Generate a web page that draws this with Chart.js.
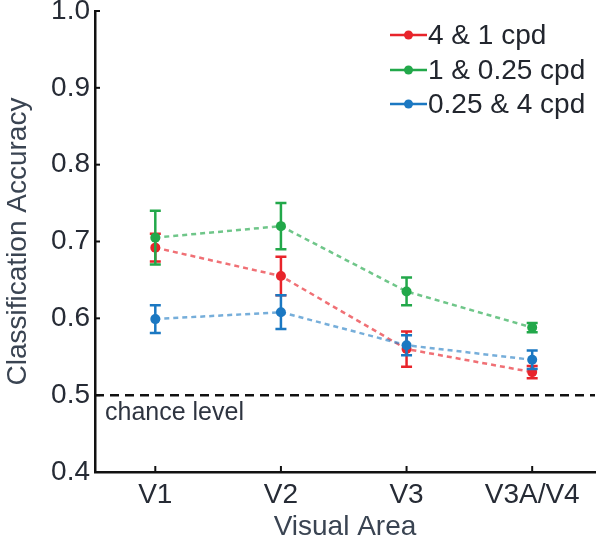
<!DOCTYPE html>
<html>
<head>
<meta charset="utf-8">
<script src="https://cdn.jsdelivr.net/npm/chart.js@4"></script>
<style>
  html, body { margin: 0; padding: 0; background: #fff; }
  #wrap { width: 600px; height: 545px; }
</style>
</head>
<body>
<div id="wrap"><canvas id="c" width="600" height="545"></canvas></div>
<script>
const categories = ['V1', 'V2', 'V3', 'V3A/V4'];
const seriesNames = ['4 & 1 cpd', '1 & 0.25 cpd', '0.25 & 4 cpd'];
const redValues = [0.692, 0.655, 0.560, 0.530];
const redErrors = [0.018, 0.025, 0.023, 0.008];
const greenValues = [0.705, 0.720, 0.635, 0.588];
const greenErrors = [0.035, 0.030, 0.018, 0.006];
const blueValues = [0.599, 0.608, 0.565, 0.546];
const blueErrors = [0.018, 0.022, 0.013, 0.012];
const yTicks = [0.4, 0.5, 0.6, 0.7, 0.8, 0.9, 1.0];
const chanceLevel = 0.5;
const chanceLabel = 'chance level';
const xTitle = 'Visual Area';
const yTitle = 'Classification Accuracy';

const colors = ['#e8242b', '#22a84a', '#1b78c2'];
const fadeColors = ['rgba(232,36,43,0.65)', 'rgba(34,168,74,0.65)', 'rgba(27,120,194,0.6)'];
const FONT = "'Liberation Sans', Arial, sans-serif";

function toPoints(vals) { return vals.map((v, i) => ({ x: i + 1, y: v })); }
const allValues = [redValues, greenValues, blueValues];
const allErrors = [redErrors, greenErrors, blueErrors];

const datasets = allValues.map((vals, k) => ({
  label: seriesNames[k],
  data: toPoints(vals),
  errors: allErrors[k],
  borderColor: fadeColors[k],
  backgroundColor: colors[k],
  pointBackgroundColor: colors[k],
  pointBorderColor: colors[k],
  pointRadius: 5,
  pointBorderWidth: 0,
  borderWidth: 2.5,
  borderDash: [5, 4],
  order: 3 - k,
  tension: 0
}));

const overlay = {
  id: 'overlay',
  beforeDatasetsDraw(chart) {
    const ctx = chart.ctx;
    const ys = chart.scales.y;
    const area = chart.chartArea;
    ctx.save();
    const yc = ys.getPixelForValue(chanceLevel);
    ctx.strokeStyle = '#111';
    ctx.lineWidth = 2.5;
    ctx.setLineDash([9, 6]);
    ctx.beginPath();
    ctx.moveTo(area.left, yc);
    ctx.lineTo(area.right, yc);
    ctx.stroke();
    ctx.setLineDash([]);
    ctx.fillStyle = '#2e3440';
    ctx.font = "25px " + FONT;
    ctx.textAlign = 'left';
    ctx.textBaseline = 'middle';
    ctx.fillText(chanceLabel, area.left + 10, yc + 18);
    ctx.restore();
  },
  afterDatasetDraw(chart, args) {
    const ctx = chart.ctx;
    const ds = chart.data.datasets[args.index];
    const xs = chart.scales.x, ys = chart.scales.y;
    ctx.save();
    ctx.strokeStyle = ds.backgroundColor;
    ctx.lineWidth = 2.5;
    ds.data.forEach((p, i) => {
      const e = ds.errors[i];
      const x = xs.getPixelForValue(p.x);
      const y1 = ys.getPixelForValue(p.y + e);
      const y2 = ys.getPixelForValue(p.y - e);
      ctx.beginPath();
      ctx.moveTo(x, y1); ctx.lineTo(x, y2);
      ctx.moveTo(x - 5.5, y1); ctx.lineTo(x + 5.5, y1);
      ctx.moveTo(x - 5.5, y2); ctx.lineTo(x + 5.5, y2);
      ctx.stroke();
    });
    ctx.restore();
  },
  afterDraw(chart) {
    const ctx = chart.ctx;
    const xs = chart.scales.x, ys = chart.scales.y;
    const area = chart.chartArea;
    ctx.save();
    ctx.strokeStyle = '#111';
    ctx.lineWidth = 2;
    yTicks.forEach(v => {
      const y = ys.getPixelForValue(v);
      ctx.beginPath(); ctx.moveTo(area.left, y); ctx.lineTo(area.left + 5, y); ctx.stroke();
    });
    categories.forEach((c, i) => {
      const x = xs.getPixelForValue(i + 1);
      ctx.beginPath(); ctx.moveTo(x, area.bottom); ctx.lineTo(x, area.bottom - 6); ctx.stroke();
    });
    // legend
    const lx0 = 390, lx1 = 427, rows = [35, 70, 104];
    ctx.font = "28px " + FONT;
    ctx.textAlign = 'left';
    ctx.textBaseline = 'middle';
    chart.data.datasets.forEach((ds, k) => {
      const y = rows[k];
      ctx.strokeStyle = ds.backgroundColor;
      ctx.lineWidth = 2.5;
      ctx.beginPath(); ctx.moveTo(lx0, y); ctx.lineTo(lx1, y); ctx.stroke();
      ctx.fillStyle = ds.backgroundColor;
      ctx.beginPath(); ctx.arc((lx0 + lx1) / 2, y, 4.5, 0, Math.PI * 2); ctx.fill();
      ctx.fillStyle = '#22262e';
      ctx.fillText(ds.label, lx1 + 1, y + 1);
    });
    ctx.restore();
  }
};

new Chart(document.getElementById('c'), {
  type: 'line',
  data: { datasets },
  options: {
    responsive: false,
    animation: false,
    devicePixelRatio: 1,
    layout: { padding: { top: 0, right: 0, bottom: 0, left: 0 } },
    plugins: { legend: { display: false }, tooltip: { enabled: false } },
    scales: {
      x: {
        type: 'linear',
        min: 0.52,
        max: 4.5,
        afterBuildTicks(s) { s.ticks = categories.map((c, i) => ({ value: i + 1 })); },
        afterFit(s) { s.height = 73; s.paddingLeft = 0; s.paddingRight = 0; },
        grid: { display: false, drawTicks: false },
        border: { display: true, color: '#111', width: 2.5 },
        ticks: {
          padding: 6,
          color: '#262b35',
          font: { family: FONT, size: 28 },
          maxRotation: 0,
          autoSkip: false,
          callback: (v) => categories[Math.round(v) - 1] || ''
        },
        title: {
          display: true, text: xTitle, color: '#3a4452',
          font: { family: FONT, size: 28 },
          padding: { top: 0, bottom: 1 }
        }
      },
      y: {
        min: 0.4,
        max: 1.0,
        afterBuildTicks(s) { s.ticks = yTicks.map(v => ({ value: v })); },
        afterFit(s) { s.width = 95; s.paddingTop = 11; s.paddingBottom = 0; },
        grid: { display: false, drawTicks: false },
        border: { display: true, color: '#111', width: 2.5 },
        ticks: {
          padding: 5,
          color: '#262b35',
          font: { family: FONT, size: 28 },
          callback: (v) => v.toFixed(1)
        },
        title: {
          display: true, text: yTitle, color: '#3a4452',
          font: { family: FONT, size: 28 },
          padding: { top: 1, bottom: 0 }
        }
      }
    }
  },
  plugins: [overlay]
});
</script>
</body>
</html>
